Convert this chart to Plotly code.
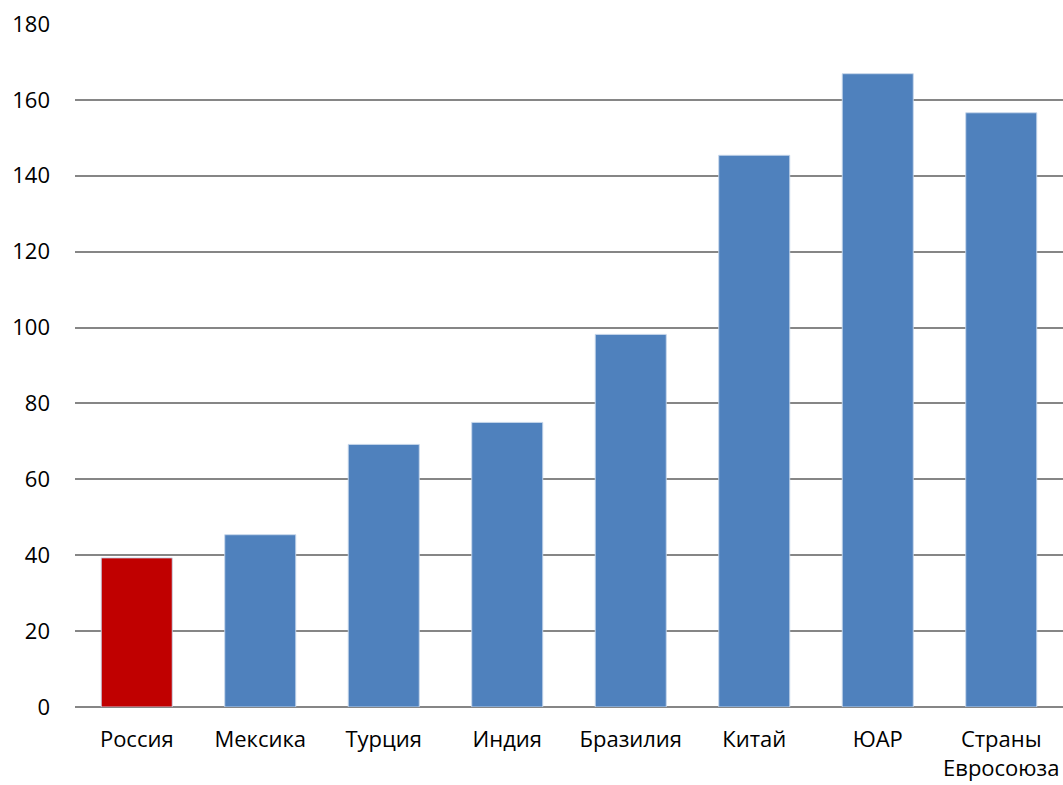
import plotly.graph_objects as go

categories = ["Россия", "Мексика", "Турция", "Индия", "Бразилия", "Китай", "ЮАР", "Страны<br>Евросоюза"]
values = [39.3, 45.4, 69.2, 75.0, 98.2, 145.4, 166.9, 156.6]
bar_colors = ["#C00000"] + ["#4F81BD"] * 7
y_ticks = [0, 20, 40, 60, 80, 100, 120, 140, 160, 180]

fig = go.Figure(go.Bar(
    x=categories, y=values,
    marker=dict(color=bar_colors, line=dict(color="rgba(200,215,235,0.9)", width=1)),
    width=0.575,
))

fig.update_layout(
    width=1063, height=785,
    margin=dict(l=75, r=0, t=24, b=78),
    paper_bgcolor="white", plot_bgcolor="white",
    font=dict(family="Open Sans, Liberation Sans, sans-serif", size=22, color="#000000"),
    showlegend=False,
)
fig.update_yaxes(
    range=[0, 180], tickvals=y_ticks, showgrid=True, gridcolor="#868686", gridwidth=2,
    zeroline=True, zerolinecolor="#868686", zerolinewidth=2,
    ticks="", ticklabelstandoff=24, showline=False,
)
fig.update_xaxes(
    showgrid=False, ticks="", ticklabelstandoff=17, showline=False, tickangle=0,
)
fig.write_html("out.html")
